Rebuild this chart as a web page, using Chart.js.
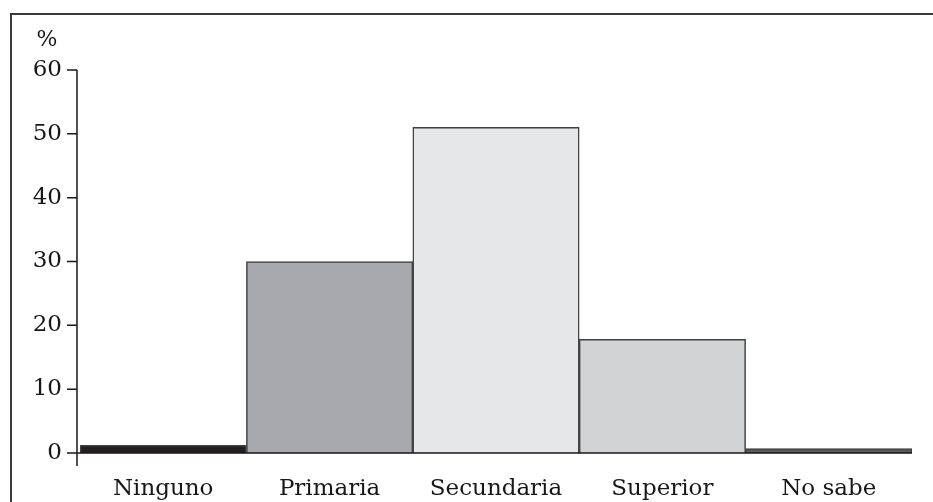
<!DOCTYPE html>
<html>
<head>
<meta charset="utf-8">
<script src="https://cdn.jsdelivr.net/npm/chart.js@4.4.1/dist/chart.umd.min.js"></script>
<style>
  html, body { margin: 0; padding: 0; background: #fff; }
  #wrap { width: 933px; height: 502px; position: relative; }
</style>
</head>
<body>
<div id="wrap"><canvas id="chart" width="933" height="502"></canvas></div>
<script>
const categories = ["Ninguno", "Primaria", "Secundaria", "Superior", "No sabe"];
const values = [1.2, 30, 51, 17.8, 0.7];
const barColors = ["#231f20", "#a7a9ac", "#e6e7e8", "#d1d3d4", "#58595b"];
const yTicks = [0, 10, 20, 30, 40, 50, 60];

const ink = "#1a1718";
const serif = "'DejaVu Serif', 'Liberation Serif', serif";

// frame, axis lines, ticks and the "%" label
const decorations = {
    id: "decorations",
    beforeDraw(chart) {
        const ctx = chart.ctx;
        ctx.save();
        ctx.strokeStyle = "#3a3a3a";
        ctx.lineWidth = 2;
        ctx.beginPath();
        ctx.moveTo(11, 502);
        ctx.lineTo(11, 14);
        ctx.lineTo(933, 14);
        ctx.stroke();
        ctx.restore();
    },
    afterDatasetsDraw(chart) {
        const ctx = chart.ctx;
        const y = chart.scales.y;
        const area = chart.chartArea;
        const axisX = area.left - 3;
        const zero = y.getPixelForValue(0);
        ctx.save();
        ctx.strokeStyle = ink;
        ctx.lineWidth = 1.5;
        ctx.beginPath();
        ctx.moveTo(axisX, y.getPixelForValue(60));
        ctx.lineTo(axisX, zero + 13);
        ctx.moveTo(axisX, zero);
        ctx.lineTo(area.right, zero);
        yTicks.forEach(function (t) {
            const py = y.getPixelForValue(t);
            ctx.moveTo(axisX - 10, py);
            ctx.lineTo(axisX, py);
        });
        ctx.stroke();

        ctx.fillStyle = ink;
        ctx.font = "23px " + serif;
        ctx.textAlign = "right";
        ctx.textBaseline = "middle";
        yTicks.forEach(function (t) {
            ctx.fillText(String(t), axisX - 15, y.getPixelForValue(t));
        });
        ctx.textAlign = "center";
        ctx.font = "22px " + serif;
        ctx.fillText("%", 47, y.getPixelForValue(60) - 30);
        ctx.restore();
    }
};

new Chart(document.getElementById("chart"), {
    type: "bar",
    data: {
        labels: categories,
        datasets: [{
            data: values,
            backgroundColor: barColors,
            borderColor: "#414042",
            borderWidth: 1.5,
            categoryPercentage: 1,
            barPercentage: 1
        }]
    },
    options: {
        responsive: false,
        animation: false,
        layout: { padding: { top: 70, right: 21, left: 0, bottom: 0 } },
        plugins: { legend: { display: false }, tooltip: { enabled: false } },
        scales: {
            x: {
                grid: { display: false },
                border: { display: false },
                ticks: { color: ink, font: { family: serif, size: 23 }, padding: 14 },
                afterFit(scale) { scale.height = 49; }
            },
            y: {
                min: 0,
                max: 60,
                grid: { display: false },
                border: { display: false },
                ticks: { display: false, stepSize: 10 },
                afterFit(scale) { scale.width = 80; }
            }
        }
    },
    plugins: [decorations]
});
</script>
</body>
</html>
